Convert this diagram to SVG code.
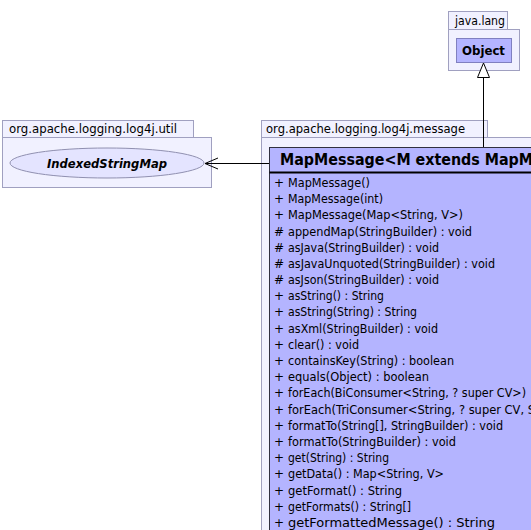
<svg xmlns="http://www.w3.org/2000/svg" width="531" height="530" viewBox="0 0 531 530">
<style>
.pkg{fill:#F1F1FF;stroke:#A0A0C0;stroke-width:1}
.pl{font-family:"DejaVu Sans",sans-serif;font-size:12px;fill:#000}
.cls{fill:#B4B4FF;stroke:#303040;stroke-width:1}
.m{font-family:"DejaVu Sans",sans-serif;font-size:12px;fill:#000}
.edge{stroke:#000;stroke-width:1;fill:none}
</style>
<rect width="531" height="530" fill="#fff"/>
<g id="pkg-java-lang">
<rect class="pkg" x="448.5" y="11.5" width="59" height="18"/>
<rect class="pkg" x="448.5" y="29.5" width="71" height="41"/>
<text class="pl" x="455" y="25" textLength="50" lengthAdjust="spacingAndGlyphs">java.lang</text>
</g>
<g id="pkg-util">
<rect class="pkg" x="2.5" y="120.5" width="191" height="17"/>
<rect class="pkg" x="2.5" y="137.5" width="209" height="50"/>
<text class="pl" x="9" y="133" textLength="168" lengthAdjust="spacingAndGlyphs">org.apache.logging.log4j.util</text>
</g>
<g id="pkg-message">
<rect class="pkg" x="261.5" y="120.5" width="226" height="17"/>
<rect class="pkg" x="261.5" y="137.5" width="280" height="400"/>
<text class="pl" x="266" y="133" textLength="199" lengthAdjust="spacingAndGlyphs">org.apache.logging.log4j.message</text>
</g>
<g id="Object">
<rect x="456.5" y="38.5" width="55" height="24" fill="#B4B4FF" stroke="#8080C0"/>
<text x="462" y="55" textLength="43" lengthAdjust="spacingAndGlyphs" font-family="DejaVu Sans,sans-serif" font-size="12.5" font-weight="bold">Object</text>
</g>
<g id="IndexedStringMap">
<ellipse cx="107" cy="163" rx="97" ry="15" fill="#E4E4FF" stroke="#9090B0"/>
<text x="47" y="167.5" textLength="120" lengthAdjust="spacingAndGlyphs" font-family="DejaVu Sans,sans-serif" font-size="12.5" font-weight="bold" font-style="italic">IndexedStringMap</text>
</g>
<g id="MapMessage">
<rect class="cls" x="269.5" y="147.5" width="280" height="400"/>
<line x1="269.5" y1="172.5" x2="531" y2="172.5" stroke="#000" stroke-width="2"/>
<text x="280" y="165" textLength="253" lengthAdjust="spacingAndGlyphs" font-family="DejaVu Sans,sans-serif" font-size="16.5" font-weight="bold">MapMessage&lt;M extends MapM</text>
<g class="m">
<text x="274" y="187">+</text><text x="288" y="187" textLength="82" lengthAdjust="spacingAndGlyphs">MapMessage()</text>
<text x="274" y="203">+</text><text x="288" y="203" textLength="95" lengthAdjust="spacingAndGlyphs">MapMessage(int)</text>
<text x="274" y="219">+</text><text x="288" y="219" textLength="175" lengthAdjust="spacingAndGlyphs">MapMessage(Map&lt;String, V&gt;)</text>
<text x="274" y="236">#</text><text x="288" y="236" textLength="184" lengthAdjust="spacingAndGlyphs">appendMap(StringBuilder) : void</text>
<text x="274" y="252">#</text><text x="288" y="252" textLength="151" lengthAdjust="spacingAndGlyphs">asJava(StringBuilder) : void</text>
<text x="274" y="268">#</text><text x="288" y="268" textLength="207" lengthAdjust="spacingAndGlyphs">asJavaUnquoted(StringBuilder) : void</text>
<text x="274" y="284">#</text><text x="288" y="284" textLength="151" lengthAdjust="spacingAndGlyphs">asJson(StringBuilder) : void</text>
<text x="274" y="300">+</text><text x="288" y="300" textLength="96" lengthAdjust="spacingAndGlyphs">asString() : String</text>
<text x="274" y="316">+</text><text x="288" y="316" textLength="129" lengthAdjust="spacingAndGlyphs">asString(String) : String</text>
<text x="274" y="333">+</text><text x="288" y="333" textLength="150" lengthAdjust="spacingAndGlyphs">asXml(StringBuilder) : void</text>
<text x="274" y="349">+</text><text x="288" y="349" textLength="71" lengthAdjust="spacingAndGlyphs">clear() : void</text>
<text x="274" y="365">+</text><text x="288" y="365" textLength="166" lengthAdjust="spacingAndGlyphs">containsKey(String) : boolean</text>
<text x="274" y="381">+</text><text x="288" y="381" textLength="141" lengthAdjust="spacingAndGlyphs">equals(Object) : boolean</text>
<text x="274" y="397">+</text><text x="288" y="397" textLength="238" lengthAdjust="spacingAndGlyphs">forEach(BiConsumer&lt;String, ? super CV&gt;)</text>
<text x="274" y="414">+</text><text x="288" y="414" textLength="247" lengthAdjust="spacingAndGlyphs">forEach(TriConsumer&lt;String, ? super CV, S</text>
<text x="274" y="430">+</text><text x="288" y="430" textLength="215" lengthAdjust="spacingAndGlyphs">formatTo(String[], StringBuilder) : void</text>
<text x="274" y="446">+</text><text x="288" y="446" textLength="168" lengthAdjust="spacingAndGlyphs">formatTo(StringBuilder) : void</text>
<text x="274" y="462">+</text><text x="288" y="462" textLength="101" lengthAdjust="spacingAndGlyphs">get(String) : String</text>
<text x="274" y="478">+</text><text x="288" y="478" textLength="156" lengthAdjust="spacingAndGlyphs">getData() : Map&lt;String, V&gt;</text>
<text x="274" y="495">+</text><text x="288" y="495" textLength="114" lengthAdjust="spacingAndGlyphs">getFormat() : String</text>
<text x="274" y="511">+</text><text x="288" y="511" textLength="123" lengthAdjust="spacingAndGlyphs">getFormats() : String[]</text>
<text x="274" y="527">+</text><text x="288" y="527" textLength="207" lengthAdjust="spacingAndGlyphs">getFormattedMessage() : String</text>
</g>
</g>
<g id="connectors">
<path class="edge" d="M483.5 147 V77"/>
<polygon points="483.5,63 477.5,77.5 489.5,77.5" fill="#fff" stroke="#000"/>
<path class="edge" d="M269 163.5 H205"/>
<path class="edge" d="M218 158 L205 163.5 L218 169"/>
</g>
</svg>
